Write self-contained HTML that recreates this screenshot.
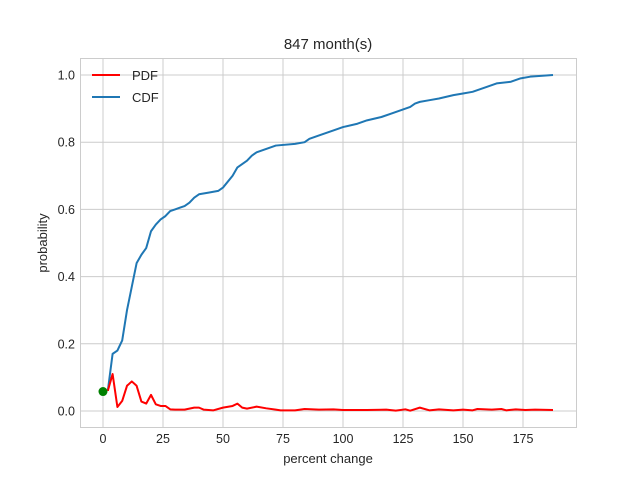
<!DOCTYPE html>
<html><head><meta charset="utf-8"><style>
body{margin:0;background:#fff;}
svg{font-family:"Liberation Sans","DejaVu Sans",sans-serif;}
</style></head><body>
<svg width="640" height="480" id="c">
<rect width="640" height="480" fill="#fff"/>
<text x="328" y="49" text-anchor="middle" font-size="15" fill="#262626">847 month(s)</text>
<g id="grid"></g><g id="ticks"></g><g id="series"></g>
<rect x="80.5" y="58.5" width="496" height="369" fill="none" stroke="#ccc" stroke-width="1"/>
<text x="328" y="463" text-anchor="middle" font-size="13" fill="#262626">percent change</text>
<text x="47" y="243" text-anchor="middle" font-size="13" fill="#262626" transform="rotate(-90 47 243)">probability</text>
<g>
<line x1="92" y1="75" x2="120" y2="75" stroke="#ff0000" stroke-width="2"/>
<text x="132" y="80" font-size="13" fill="#262626">PDF</text>
<line x1="92" y1="97" x2="120" y2="97" stroke="#1f77b4" stroke-width="2"/>
<text x="132" y="102" font-size="13" fill="#262626">CDF</text>
</g>
</svg>
<script>
const xTicks=[0,25,50,75,100,125,150,175];
const yTicks=[0.0,0.2,0.4,0.6,0.8,1.0];
const yTickLabels=["0.0","0.2","0.4","0.6","0.8","1.0"];
const cdfX=[2,4,6,8,10,12,14,16,18,20,22,24,26,28,30,32,34,36,38,40,44,48,50,54,56,58,60,62,64,68,72,80,84,86,90,96,100,106,110,116,120,124,128,130,132,136,140,146,150,154,160,164,170,174,178,187.5];
const cdfY=[0.06,0.17,0.18,0.21,0.30,0.37,0.44,0.465,0.485,0.535,0.555,0.57,0.58,0.595,0.60,0.605,0.61,0.62,0.635,0.645,0.65,0.655,0.665,0.70,0.725,0.735,0.745,0.76,0.77,0.78,0.79,0.795,0.80,0.81,0.82,0.835,0.845,0.855,0.865,0.875,0.885,0.895,0.905,0.915,0.92,0.925,0.93,0.94,0.945,0.95,0.965,0.975,0.98,0.99,0.995,1.0];
const pdfX=[2,4,6,8,10,12,14,16,18,20,22,24,26,28,30,34,38,40,42,46,50,54,56,58,60,64,68,72,74,80,84,90,96,100,110,118,122,126,128,132,136,140,146,150,154,156,162,166,168,172,176,180,187.5];
const pdfY=[0.06,0.11,0.012,0.03,0.075,0.088,0.075,0.028,0.022,0.048,0.02,0.015,0.015,0.005,0.004,0.004,0.01,0.01,0.004,0.002,0.01,0.015,0.022,0.01,0.007,0.013,0.008,0.004,0.002,0.002,0.006,0.004,0.005,0.003,0.003,0.004,0.001,0.005,0.001,0.01,0.002,0.005,0.002,0.004,0.002,0.006,0.004,0.006,0.002,0.005,0.003,0.004,0.003];
const startPoint=[0,0.058];
const NS="http://www.w3.org/2000/svg";
const sx=v=>103+v*2.4, sy=v=>411-v*336;
function mk(t,a,p){const e=document.createElementNS(NS,t);for(const k in a)e.setAttribute(k,a[k]);p.appendChild(e);return e;}
const g=document.getElementById('grid'),tk=document.getElementById('ticks'),s=document.getElementById('series');
xTicks.forEach(v=>{
const l=mk('line',{x1:sx(v),x2:sx(v),y1:58,y2:427,stroke:'#ccc','stroke-width':1},g);


const t=mk('text',{x:sx(v),y:443,'text-anchor':'middle','font-size':12.5,fill:'#262626'},tk);
t.textContent=v;


});
yTicks.forEach((v,i)=>{
const l=mk('line',{x1:80,x2:576,y1:sy(v),y2:sy(v),stroke:'#ccc','stroke-width':1},g);


const t=mk('text',{x:75,y:sy(v)+4.5,'text-anchor':'end','font-size':12.5,fill:'#262626'},tk);
t.textContent=yTickLabels[i];


});
const cdf=mk('polyline',{points:cdfX.map((x,i)=>sx(x)+','+sy(cdfY[i])).join(' '),fill:'none',stroke:'#1f77b4','stroke-width':2,'stroke-linejoin':'round'},s);


const pdf=mk('polyline',{points:pdfX.map((x,i)=>sx(x)+','+sy(pdfY[i])).join(' '),fill:'none',stroke:'#ff0000','stroke-width':2,'stroke-linejoin':'round'},s);


const dot=mk('circle',{cx:sx(startPoint[0]),cy:sy(startPoint[1]),r:4.5,fill:'#008000'},s);


</script>
</body></html>
